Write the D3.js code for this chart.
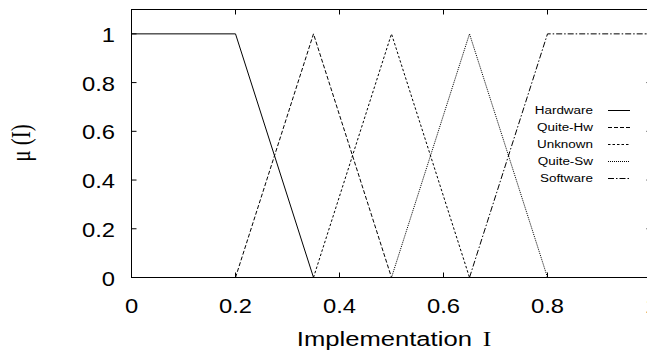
<!DOCTYPE html>
<html>
<head>
<meta charset="utf-8">
<script src="https://cdn.jsdelivr.net/npm/d3@7"></script>
<style>
  body { margin: 0; background: #fff; }
  svg { display: block; }
</style>
</head>
<body>
<script>
const xTicks = [0, 0.2, 0.4, 0.6, 0.8, 1];
const yTicks = [0, 0.2, 0.4, 0.6, 0.8, 1];

const names = ["Hardware", "Quite-Hw", "Unknown", "Quite-Sw", "Software"];
const dashes = [null, "4,2", "2.5,2", "1,1", "6,2,1.5,2"];

// breakpoints of each membership function
const hardware = [[0, 1], [0.2, 1], [0.35, 0]];
const quiteHw = [[0.2, 0], [0.35, 1], [0.5, 0]];
const unknown = [[0.35, 0], [0.5, 1], [0.65, 0]];
const quiteSw = [[0.5, 0], [0.65, 1], [0.8, 0]];
const software = [[0.65, 0], [0.8, 1], [1, 1]];
const series = [hardware, quiteHw, unknown, quiteSw, software];

const SANS = "Liberation Sans, Arial, sans-serif";
const SERIF = "Liberation Serif, Times New Roman, serif";
const SX = 1.22; // the original picture is stretched sideways

let width = 647, height = 358;
let svg = d3.select("body").append("svg").attr("width", width).attr("height", height);

let x = d3.scaleLinear().domain([0, 1]).range([131.5, 651.5]);
let y = d3.scaleLinear().domain([0, 1.1]).range([277.5, 9.5]);

// frame
svg.append("rect")
    .attr("x", x(0)).attr("y", y(1.1))
    .attr("width", x(1) - x(0)).attr("height", y(0) - y(1.1))
    .attr("fill", "none").attr("stroke", "#000").attr("stroke-width", 1);

// ticks (inward, mirrored)
let tk = 5;
let g = svg.append("g").attr("stroke", "#000").attr("stroke-width", 1);
xTicks.forEach(t => {
    g.append("line").attr("x1", x(t)).attr("x2", x(t)).attr("y1", y(0)).attr("y2", y(0) - tk);
    g.append("line").attr("x1", x(t)).attr("x2", x(t)).attr("y1", y(1.1)).attr("y2", y(1.1) + tk);
});
yTicks.forEach(t => {
    g.append("line").attr("x1", x(0)).attr("x2", x(0) + tk).attr("y1", y(t)).attr("y2", y(t));
    g.append("line").attr("x1", x(1)).attr("x2", x(1) - tk).attr("y1", y(t)).attr("y2", y(t));
});

// tick labels
svg.append("g").selectAll("text").data(xTicks).join("text")
    .attr("transform", d => `translate(${x(d)},313) scale(${SX},1)`)
    .attr("text-anchor", "middle")
    .attr("font-family", SANS).attr("font-size", "19.5px")
    .text(d => d3.format("")(d));

svg.append("g").selectAll("text").data(yTicks).join("text")
    .attr("transform", d => `translate(115,${y(d) + 8}) scale(${SX},1)`)
    .attr("text-anchor", "end")
    .attr("font-family", SANS).attr("font-size", "19.5px")
    .text(d => d3.format("")(d));

// axis titles
let xt = svg.append("text")
    .attr("transform", `translate(394,346) scale(${SX},1)`)
    .attr("text-anchor", "middle")
    .attr("font-family", SANS).attr("font-size", "21px");
xt.append("tspan").text("Implementation ");
xt.append("tspan").attr("font-family", SERIF).attr("dx", 3).text("I");

svg.append("text")
    .attr("transform", `translate(30,143) scale(1.35,1) rotate(-90)`)
    .attr("text-anchor", "middle")
    .attr("font-family", SERIF).attr("font-size", "21px")
    .text("μ (I)");

// lines
let line = d3.line().x(d => x(d[0])).y(d => y(d[1]));
svg.append("g").selectAll("path").data(series).join("path")
    .attr("d", line)
    .attr("fill", "none")
    .attr("stroke", "#000")
    .attr("stroke-width", 1)
    .attr("stroke-dasharray", (d, i) => dashes[i]);

// legend
let lg = svg.append("g").selectAll("g").data(names).join("g")
    .attr("transform", (d, i) => `translate(0,${110 + i * 17})`);
lg.append("text")
    .attr("transform", `translate(593,4) scale(1.17,1)`)
    .attr("text-anchor", "end")
    .attr("font-family", SANS).attr("font-size", "11.5px")
    .text(d => d);
lg.append("line").attr("x1", 608).attr("x2", 630).attr("y1", 0.5).attr("y2", 0.5)
    .attr("stroke", "#000").attr("stroke-width", 1)
    .attr("stroke-dasharray", (d, i) => dashes[i]);
</script>
</body>
</html>
